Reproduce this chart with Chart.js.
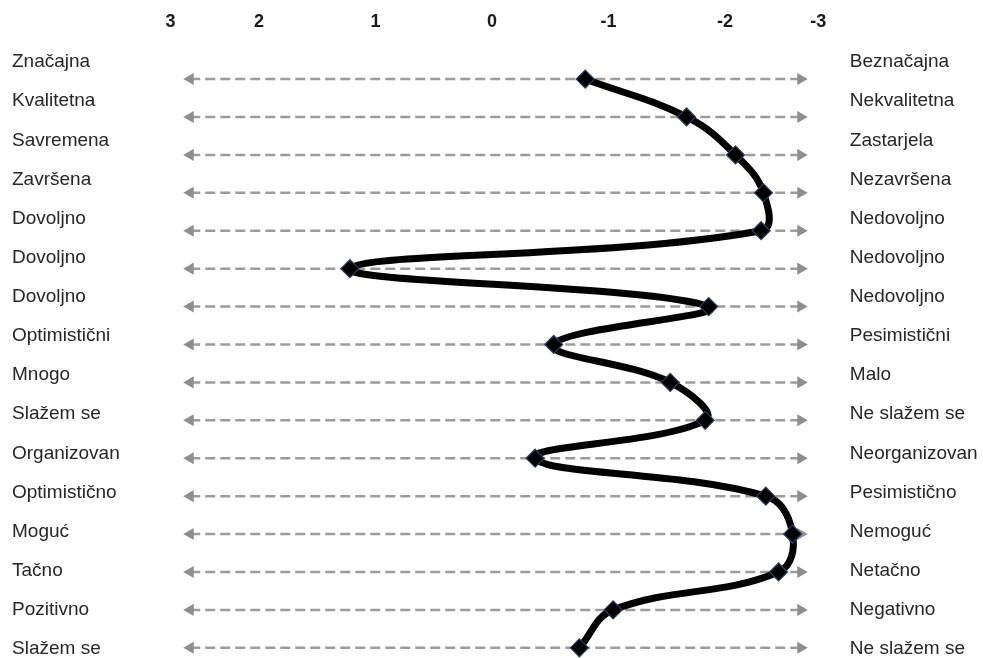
<!DOCTYPE html>
<html>
<head>
<meta charset="utf-8">
<script src="https://cdn.jsdelivr.net/npm/chart.js@4.4.1/dist/chart.umd.min.js"></script>
<style>
html,body{margin:0;padding:0;background:#fff;}
#wrap{width:983px;height:658px;position:relative;}
</style>
</head>
<body>
<div id="wrap"><canvas id="c"></canvas></div>
<script>
const leftLabels = ['Značajna','Kvalitetna','Savremena','Završena','Dovoljno','Dovoljno','Dovoljno','Optimistični','Mnogo','Slažem se','Organizovan','Optimistično','Moguć','Tačno','Pozitivno','Slažem se'];
const rightLabels = ['Beznačajna','Nekvalitetna','Zastarjela','Nezavršena','Nedovoljno','Nedovoljno','Nedovoljno','Pesimistični','Malo','Ne slažem se','Neorganizovan','Pesimistično','Nemoguć','Netačno','Negativno','Ne slažem se'];
const scores = [-0.80, -1.67, -2.09, -2.33, -2.31, 1.22, -1.86, -0.53, -1.53, -1.83, -0.37, -2.35, -2.58, -2.46, -1.04, -0.75];
const tickLabels = ['3','2','1','0','-1','-2','-3'];
const tickValues = [2.76, 2, 1, 0, -1, -2, -2.8];
const arrowFrom = 2.59;
const arrowTo = -2.65;

const FONT = '"Liberation Sans", Arial, sans-serif';

const noPad = (axis) => {
  axis.paddingTop = 0; axis.paddingBottom = 0;
  axis.paddingLeft = 0; axis.paddingRight = 0;
};

const arrowSets = leftLabels.map((_, i) => ({
  type: 'line',
  data: [{x: arrowFrom, y: i}, {x: arrowTo, y: i}],
  borderColor: '#9c9c9c',
  borderWidth: 2.5,
  borderDash: [10, 5],
  pointStyle: 'triangle',
  pointRotation: [-90, 90],
  pointRadius: 7,
  pointBackgroundColor: '#8e8e8e',
  pointBorderWidth: 0,
  clip: false,
  xAxisID: 'x',
  yAxisID: 'y',
  order: 2
}));

const profile = {
  type: 'line',
  data: scores.map((v, i) => ({x: v, y: i})),
  borderColor: '#000',
  borderWidth: 7,
  tension: 0.4,
  pointStyle: 'rectRot',
  pointRadius: 9,
  pointBackgroundColor: '#000',
  pointBorderColor: '#2b3f5c',
  pointBorderWidth: 1.2,
  clip: false,
  xAxisID: 'x',
  yAxisID: 'y',
  order: 0
};

new Chart(document.getElementById('c'), {
  type: 'line',
  data: { datasets: [profile, ...arrowSets] },
  options: {
    responsive: true,
    maintainAspectRatio: false,
    animation: false,
    events: [],
    layout: { padding: { left: 12, right: 0, top: 0, bottom: 0 } },
    plugins: { legend: { display: false }, tooltip: { enabled: false } },
    scales: {
      x: {
        type: 'linear',
        position: 'top',
        reverse: true,
        min: -2.9,
        max: 3,
        grid: { display: false, drawTicks: false },
        border: { display: false },
        afterBuildTicks: (axis) => { axis.ticks = tickValues.map(v => ({ value: v })); },
        afterFit: (axis) => { axis.height = 40; noPad(axis); },
        ticks: {
          autoSkip: false,
          maxRotation: 0,
          padding: 7,
          color: '#1a1a1a',
          font: { family: FONT, size: 18, weight: 'bold' },
          callback: (v, idx) => tickLabels[idx]
        }
      },
      y: {
        type: 'linear',
        display: false,
        reverse: true,
        min: -1.03,
        max: 15.0
      },
      yl: {
        type: 'linear',
        position: 'left',
        reverse: true,
        min: -0.563,
        max: 14.97,
        grid: { display: false, drawTicks: false },
        border: { display: false },
        afterBuildTicks: (axis) => { axis.ticks = leftLabels.map((_, i) => ({ value: i })); },
        afterFit: (axis) => { axis.width = 130.5; noPad(axis); },
        ticks: {
          autoSkip: false,
          crossAlign: 'far',
          padding: 0,
          color: '#262626',
          font: { family: FONT, size: 19 },
          callback: (v) => leftLabels[v]
        }
      },
      yr: {
        type: 'linear',
        position: 'right',
        reverse: true,
        min: -0.563,
        max: 14.97,
        grid: { display: false, drawTicks: false },
        border: { display: false },
        afterBuildTicks: (axis) => { axis.ticks = rightLabels.map((_, i) => ({ value: i })); },
        afterFit: (axis) => { axis.width = 153.15; noPad(axis); },
        ticks: {
          autoSkip: false,
          padding: 20,
          color: '#262626',
          font: { family: FONT, size: 19 },
          callback: (v) => rightLabels[v]
        }
      }
    }
  }
});
</script>
</body>
</html>
